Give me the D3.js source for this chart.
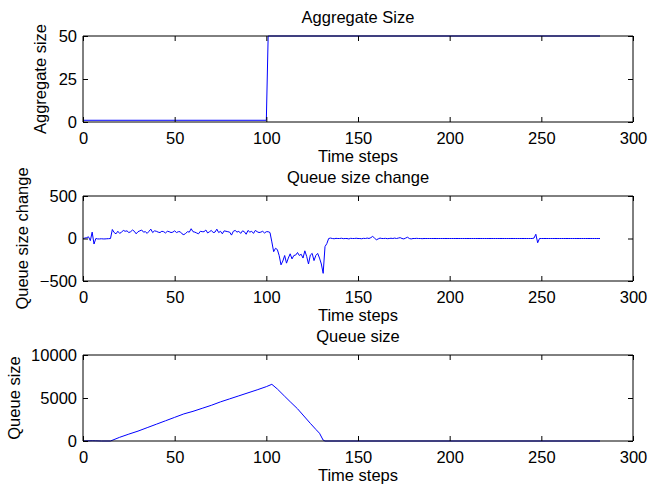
<!DOCTYPE html>
<html>
<head>
<meta charset="utf-8">
<script src="https://cdn.jsdelivr.net/npm/d3@7"></script>
<style>
  html, body { margin: 0; padding: 0; background: #fff; }
  svg { display: block; }
  text { font-family: "Liberation Sans", Arial, Helvetica, sans-serif; fill: #000; }
</style>
</head>
<body>
<svg id="chart" width="649" height="486"></svg>
<script>
// ---- data ----
const xTicks = [0, 50, 100, 150, 200, 250, 300];
const aggTicks = [0, 25, 50];
const changeTicks = [-500, 0, 500];
const queueTicks = [0, 5000, 10000];

const titles = ["Aggregate Size", "Queue size change", "Queue size"];
const yLabels = ["Aggregate size", "Queue size change", "Queue size"];
const xLabel = "Time steps";

// Aggregate size (breakpoints)
const aggTime = [0, 100, 101, 282];
const aggValue = [1, 1, 50, 50];

// Queue size change, one value per time step 0..282
const changeValue = [
  0, 5, 10, 20, -25, 75, -65, 0, -5, -5,
  -3, -5, -5, -3, -2, 0, 106, 70, 55, 85,
  60, 75, 95, 85, 90, 70, 80, 100, 85, 55,
  80, 90, 100, 75, 80, 60, 85, 110, 70, 90,
  85, 75, 70, 85, 80, 65, 85, 80, 70, 75,
  90, 70, 80, 80, 55, 45, 60, 80, 75, 115,
  80, 75, 65, 55, 85, 80, 80, 100, 65, 80,
  95, 70, 75, 110, 70, 85, 55, 90, 85, 80,
  75, 40, 85, 95, 75, 85, 60, 90, 80, 50,
  95, 75, 85, 60, 95, 80, 70, 75, 85, 65,
  80, 80, 70, -40, -155, -115, -130, -200, -310, -265,
  -200, -290, -230, -180, -240, -200, -195, -165, -200, -185,
  -230, -145, -210, -300, -195, -175, -260, -200, -175, -230,
  -300, -410, -95, -60, 0, 5, 0, -3, 2, 0,
  0, 3, -2, 0, 0, -5, 2, 0, 0, 3,
  0, 0, -3, 2, 0, 5, 0, 10, 25, 5,
  -15, -5, 5, 0, 0, 2, -2, 0, 3, 0,
  5, 0, 5, 10, 0, -5, 5, 15, 0, -5,
  0, 0, 2, 0, 0, -2, 0, 0, 0, 0,
  0, 0, 0, 0, 0, 0, 0, 0, 0, 0,
  0, 0, 0, 0, 0, 0, 0, 0, 0, 0,
  0, 0, 0, 0, 0, 0, 0, 0, 0, 0,
  0, 0, 0, 0, 0, 0, 0, 0, 0, 0,
  0, 0, 0, 0, 0, 0, 0, 0, 0, 0,
  0, 0, 0, 0, 0, 0, 5, 50, -50, 0,
  0, 0, 0, 0, 0, 0, 0, 0, 0, 0,
  0, 0, 0, 0, 0, 0, 0, 0, 0, 0,
  0, 0, 0, 0, 0, 0, 0, 0, 0, 0,
  0, 0, 0
];

// Queue size
const queueTime  = [0, 5, 7, 10, 15, 20, 25, 30, 35, 40, 45, 50, 55, 60, 65, 70, 75, 80, 85, 90, 95, 100, 103, 106, 110, 113, 117, 120, 124, 127, 129, 131, 132, 282];
const queueValue = [0, 30, 20, 0, 0, 430, 800, 1150, 1550, 1950, 2350, 2750, 3150, 3450, 3800, 4150, 4550, 4900, 5250, 5600, 5950, 6320, 6590, 6050, 5200, 4570, 3750, 3020, 2050, 1350, 900, 100, 0, 0];

// ---- layout ----
const svg = d3.select("#chart");
const left = 83, right = 633;
const fontSize = 16.5;
const panels = [
  { top: 36, bottom: 122, domain: [0, 50], ticks: aggTicks, ylabX: 46,
    data: aggTime.map((t, i) => [t, aggValue[i]]) },
  { top: 196, bottom: 281, domain: [-500, 500], ticks: changeTicks, ylabX: 28,
    data: changeValue.map((v, i) => [i, v]) },
  { top: 355, bottom: 441, domain: [0, 10000], ticks: queueTicks, ylabX: 20,
    data: queueTime.map((t, i) => [t, queueValue[i]]) }
];

const x = d3.scaleLinear().domain([0, 300]).range([left, right]);
const fmt = v => (v < 0 ? "\u2212" + Math.abs(v) : String(v));
const tickLen = 5;

panels.forEach((p, pi) => {
  const y = d3.scaleLinear().domain(p.domain).range([p.bottom, p.top]);
  const g = svg.append("g");

  // data line
  const line = d3.line().x(d => x(d[0])).y(d => y(d[1]));
  g.append("path")
    .datum(p.data)
    .attr("d", line)
    .attr("fill", "none")
    .attr("stroke", "#0000ff")
    .attr("stroke-width", 1);

  // axes via d3 axis (inward ticks, mirrored)
  const xb = d3.axisBottom(x).tickValues(xTicks).tickSize(-tickLen).tickPadding(10).tickFormat(fmt);
  const xt = d3.axisTop(x).tickValues(xTicks).tickSize(-tickLen).tickFormat("");
  const yl = d3.axisLeft(y).tickValues(p.ticks).tickSize(-tickLen).tickPadding(6).tickFormat(fmt);
  const yr = d3.axisRight(y).tickValues(p.ticks).tickSize(-tickLen).tickFormat("");

  const styleAxis = sel => {
    sel.select(".domain").attr("stroke", "#000").attr("stroke-width", 1);
    sel.selectAll(".tick line").attr("stroke", "#000").attr("stroke-width", 1);
    sel.selectAll("text").attr("font-size", fontSize).attr("font-family", "Liberation Sans, Arial, sans-serif").attr("fill", "#000");
  };
  g.append("g").attr("transform", `translate(0,${p.bottom})`).call(xb).call(styleAxis)
    .call(s => s.select(".domain").attr("d", `M${left},0H${right}`));
  g.append("g").attr("transform", `translate(0,${p.top})`).call(xt).call(styleAxis)
    .call(s => s.select(".domain").attr("d", `M${left},0H${right}`));
  g.append("g").attr("transform", `translate(${left},0)`).call(yl).call(styleAxis)
    .call(s => s.select(".domain").attr("d", `M0,${p.top}V${p.bottom}`));
  g.append("g").attr("transform", `translate(${right},0)`).call(yr).call(styleAxis)
    .call(s => s.select(".domain").attr("d", `M0,${p.top}V${p.bottom}`));

  // title
  g.append("text")
    .attr("x", (left + right) / 2)
    .attr("y", p.top - 13)
    .attr("text-anchor", "middle")
    .attr("font-size", fontSize)
    .text(titles[pi]);

  // x label
  g.append("text")
    .attr("x", (left + right) / 2)
    .attr("y", p.bottom + 40)
    .attr("text-anchor", "middle")
    .attr("font-size", fontSize)
    .text(xLabel);

  // y label
  g.append("text")
    .attr("transform", `translate(${p.ylabX},${(p.top + p.bottom) / 2}) rotate(-90)`)
    .attr("text-anchor", "middle")
    .attr("font-size", fontSize)
    .text(yLabels[pi]);
});
</script>
</body>
</html>
